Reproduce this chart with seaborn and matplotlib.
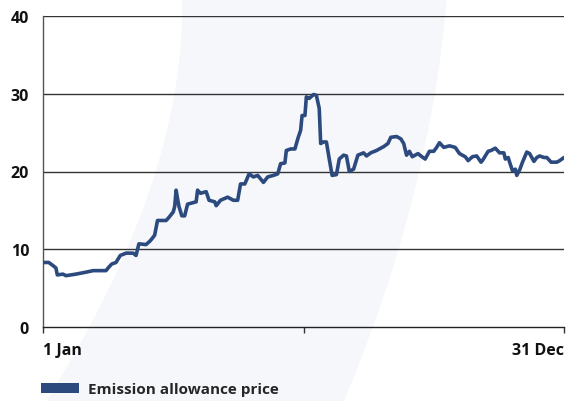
import matplotlib
matplotlib.use("Agg")
import matplotlib.pyplot as plt
from matplotlib.patches import PathPatch, Patch
from matplotlib.path import Path
import seaborn as sns
import pandas as pd

# ---- data (day of year, price) ----
days = [0, 4, 7, 9, 10, 14, 16, 23, 30, 35, 44, 46, 48, 51, 54, 58, 63, 65, 67, 72,
        75, 78, 80, 86, 88, 91, 92, 93, 94, 95, 97, 99, 101, 105, 107, 108, 110, 114,
        116, 120, 121, 124, 129, 133, 136, 138, 141, 144, 147, 150, 154, 157, 161, 164,
        166, 169, 170, 173, 176, 178, 180, 181, 183, 184, 186, 189, 191, 193, 194, 196,
        198, 200, 202, 205, 207, 210, 212, 214, 217, 220, 224, 226, 229, 233, 238, 241,
        243, 247, 250, 252, 254, 256, 258, 260, 262, 264, 267, 270, 273, 275, 277, 280,
        284, 288, 291, 295, 297, 300, 303, 306, 307, 311, 313, 316, 319, 322, 323, 325,
        326, 328, 330, 331, 333, 335, 338, 340, 343, 345, 347, 350, 352, 355, 359, 361, 364]
price = [8.3, 8.3, 7.9, 7.6, 6.7, 6.8, 6.6, 6.8, 7.05, 7.25, 7.25, 7.7, 8.1, 8.3, 9.2, 9.5, 9.5, 9.2, 10.7, 10.6,
         11.1, 11.8, 13.7, 13.7, 14.1, 14.8, 15.5, 17.6, 16.5, 15.5, 14.3, 14.3, 15.8, 16.0, 16.1, 17.6, 17.2, 17.4,
         16.3, 16.1, 15.6, 16.3, 16.7, 16.3, 16.3, 18.4, 18.4, 19.7, 19.3, 19.5, 18.6, 19.3, 19.5, 19.7,
         21.0, 21.1, 22.7, 22.9, 22.9, 24.2, 25.3, 27.2, 27.2, 29.6, 29.4, 29.9, 29.8, 28.1, 23.6, 23.8,
         23.8, 21.6, 19.5, 19.6, 21.6, 22.1, 22.0, 20.0, 20.3, 22.1, 22.4, 22.0, 22.4, 22.7, 23.2, 23.6,
         24.4, 24.5, 24.2, 23.6, 22.1, 22.6, 21.9, 22.1, 22.3, 22.0, 21.6, 22.6, 22.6, 23.1, 23.7, 23.1,
         23.3, 23.1, 22.3, 21.9, 21.4, 21.9, 22.0, 21.2, 21.4, 22.6, 22.7, 23.0, 22.4, 22.4, 21.6, 21.8,
         21.2, 20.1, 20.3, 19.5, 20.2, 21.2, 22.5, 22.3, 21.3, 21.8, 22.0, 21.8, 21.8, 21.2, 21.2, 21.4, 21.8]
y_ticks = [0, 10, 20, 30, 40]
x_ticks = [0, 182, 364]
x_labels = ["1 Jan", "", "31 Dec"]
series_name = "Emission allowance price"

df = pd.DataFrame({"day": days, "price": price})

sns.set_theme(style="white")
plt.rcParams["font.family"] = ["Open Sans", "DejaVu Sans"]

W, H = 571, 402
fig = plt.figure(figsize=(W / 100, H / 100), dpi=100)
fig.patch.set_facecolor("white")

# decorative background swoosh (figure pixel coords, quadratic curves)
def fp(x, y):
    return (x / W, 1 - y / H)

verts = [fp(182, -2), fp(186.5, 179), fp(45, 404),
         fp(343, 404), fp(430, 199), fp(447, -2), fp(182, -2)]
codes = [Path.MOVETO, Path.CURVE3, Path.CURVE3,
         Path.LINETO, Path.CURVE3, Path.CURVE3, Path.CLOSEPOLY]
swoosh = PathPatch(Path(verts, codes), transform=fig.transFigure,
                   facecolor="#f5f7fa", edgecolor="none", zorder=-5)
fig.patches.append(swoosh)

ax = fig.add_axes([43 / W, 1 - 328 / H, (564 - 43) / W, (328 - 17) / H])
ax.patch.set_alpha(0)
ax.set_zorder(1)

line_color = "#2c4a7e"
sns.lineplot(data=df, x="day", y="price", ax=ax, color=line_color, linewidth=2.6, legend=False, zorder=3)

ax.set_xlim(0, 364)
ax.set_ylim(0, 40)
ax.set_yticks(y_ticks)
ax.set_yticklabels([str(v) for v in y_ticks])
ax.set_xticks(x_ticks)
ax.set_xticklabels(x_labels)
for i, lab in enumerate(ax.get_xticklabels()):
    lab.set_ha("left" if i == 0 else "right")
ax.set_xlabel("")
ax.set_ylabel("")

for v in y_ticks[1:]:
    ax.axhline(v, color="#333333", linewidth=1.0, zorder=1)

for s in ["top", "right"]:
    ax.spines[s].set_visible(False)
ax.spines["left"].set_color("#555555")
ax.spines["left"].set_linewidth(1.0)
ax.spines["bottom"].set_color("#222222")
ax.spines["bottom"].set_linewidth(1.0)

ax.tick_params(axis="y", length=0, pad=10, labelsize=11.5, colors="#111111")
ax.tick_params(axis="x", length=4, width=1, color="#333333", direction="out",
               pad=7, labelsize=11.5, labelcolor="#111111", bottom=True)
for lab in ax.get_xticklabels() + ax.get_yticklabels():
    lab.set_fontweight("bold")

leg = fig.legend(handles=[Patch(facecolor=line_color, edgecolor="none", label=series_name)],
                 loc="center left", bbox_to_anchor=(41 / W, 1 - 390 / H), frameon=False,
                 handlelength=2.5, handleheight=0.65, handletextpad=0.55, borderpad=0, borderaxespad=0,
                 prop={"size": 11, "weight": "bold"})

fig.savefig("out.png", dpi=100, facecolor="white")
